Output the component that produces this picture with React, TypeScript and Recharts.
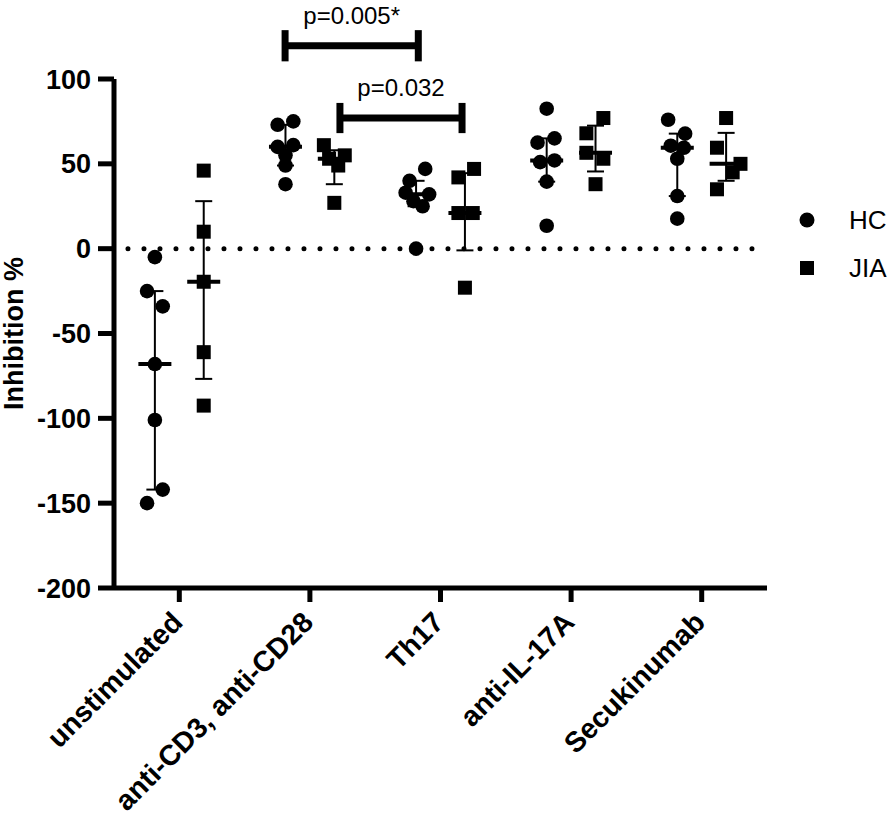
import React from 'react';
import { ScatterChart, Scatter, XAxis, YAxis, ReferenceLine, ErrorBar, Legend } from 'recharts';

const categories = ['unstimulated', 'anti-CD3, anti-CD28', 'Th17', 'anti-IL-17A', 'Secukinumab'];

const hcValues = [
  [-5, -25, -34, -68, -101, -142, -150],
  [75, 73, 61, 60, 55, 49, 38],
  [47, 40, 33, 32, 28, 25, 0],
  [82.5, 65, 62.5, 52, 51, 39.5, 13.5],
  [76, 67.8, 60.7, 59.5, 53, 31, 17.7],
];
const hcJitter = [
  [0, -0.06, 0.06, 0, 0, 0.06, -0.06],
  [0.06, -0.06, 0.06, -0.06, 0, 0, 0],
  [0.07, -0.05, -0.08, 0.1, -0.02, 0.05, 0],
  [0, 0.06, -0.07, 0.06, -0.05, 0, 0],
  [-0.07, 0.06, -0.05, 0.05, 0, 0, 0],
];
const jiaValues = [
  [46, 10, -19.5, -61, -92.5],
  [61, 55, 53, 49, 27],
  [47, 42, 21, 21, -23],
  [77, 68, 56.5, 53, 38],
  [77, 59.5, 50, 45, 35],
];
const jiaJitter = [
  [0, 0, 0, 0, 0],
  [-0.08, 0.08, -0.04, 0.03, 0],
  [0.07, -0.05, -0.05, 0.06, 0],
  [0.06, -0.07, -0.07, 0.06, 0],
  [0, -0.07, 0.11, 0.05, -0.07],
];
const seriesOffset = 0.187;
const yTicks = [-200, -150, -100, -50, 0, 50, 100];
const xTicks = [0.5, 1.5, 2.5, 3.5, 4.5];
const zeroLine = [0.107, 4.9];
const comparisons = [
  { label: 'p=0.005*', x1: 1.31, x2: 2.33, y: 119.6, cap: 9.2 },
  { label: 'p=0.032', x1: 1.73, x2: 2.665, y: 77, cap: 8.9 },
];

const FONT = '"Liberation Sans", Arial, Helvetica, sans-serif';

function quantile(sorted: number[], p: number) {
  const n = sorted.length;
  const pos = (n + 1) * p;
  if (pos <= 1) return sorted[0];
  if (pos >= n) return sorted[n - 1];
  const lo = Math.floor(pos);
  const frac = pos - lo;
  return sorted[lo - 1] + frac * (sorted[lo] - sorted[lo - 1]);
}

function buildPoints(values: number[][], jitter: number[][], sign: number) {
  const pts: { x: number; y: number }[] = [];
  values.forEach((arr, i) => {
    arr.forEach((v, j) => {
      pts.push({ x: i + 0.5 + sign * seriesOffset + jitter[i][j], y: v });
    });
  });
  return pts;
}

function buildSummary(values: number[][], sign: number) {
  return values.map((arr, i) => {
    const s = [...arr].sort((a, b) => a - b);
    const med = quantile(s, 0.5);
    const q1 = quantile(s, 0.25);
    const q3 = quantile(s, 0.75);
    return { x: i + 0.5 + sign * seriesOffset, y: med, err: [med - q1, q3 - med] };
  });
}

const hcPoints = buildPoints(hcValues, hcJitter, -1);
const jiaPoints = buildPoints(jiaValues, jiaJitter, 1);
const hcSummary = buildSummary(hcValues, -1);
const jiaSummary = buildSummary(jiaValues, 1);

const CircleShape = (props: any) => <circle cx={props.cx} cy={props.cy} r={7.3} fill="#000" />;
const SquareShape = (props: any) => (
  <rect x={props.cx - 7} y={props.cy - 7} width={14} height={14} fill="#000" />
);
const MedianShape = (props: any) => (
  <line x1={props.cx - 16.5} x2={props.cx + 16.5} y1={props.cy} y2={props.cy} stroke="#000" strokeWidth={4} />
);

const XTick = (props: any) => {
  const { x, y, payload } = props;
  const ax = x + 5;
  const ay = y + 22;
  return (
    <text
      x={ax}
      y={ay}
      transform={`rotate(-45, ${ax}, ${ay})`}
      textAnchor="end"
      fontSize={28.5}
      fontWeight="bold"
      fontFamily={FONT}
      fill="#000"
    >
      {categories[Math.floor(payload.value)]}
    </text>
  );
};

const YLabel = (props: any) => {
  const vb = props.viewBox || { y: 79, height: 509 };
  const cy = vb.y + vb.height / 2;
  return (
    <text
      x={23}
      y={cy}
      transform={`rotate(-90, 23, ${cy})`}
      textAnchor="middle"
      fontSize={27}
      fontWeight="bold"
      fontFamily={FONT}
      fill="#000"
    >
      Inhibition %
    </text>
  );
};

const LegendContent = () => (
  <svg width={103} height={100} style={{ display: 'block' }}>
    <circle cx={17} cy={24} r={7.5} fill="#000" />
    <text x={59} y={33} fontSize={26} fontFamily={FONT} fill="#000">HC</text>
    <rect x={10} y={65} width={14} height={14} fill="#000" />
    <text x={59} y={81} fontSize={26} fontFamily={FONT} fill="#000">JIA</text>
  </svg>
);

export default function App() {
  return (
    <div style={{ position: 'absolute', left: 0, top: 0, background: '#fff' }}>
      <ScatterChart
        width={893}
        height={820}
        margin={{ top: 79, right: 126, bottom: 32, left: 0 }}
        style={{ fontFamily: FONT }}
      >
        <XAxis
          type="number"
          dataKey="x"
          domain={[0, 5]}
          ticks={xTicks}
          allowDataOverflow
          height={200}
          tickSize={14}
          tickMargin={0}
          axisLine={{ stroke: '#000', strokeWidth: 5 }}
          tickLine={{ stroke: '#000', strokeWidth: 5 }}
          tick={<XTick />}
          interval={0}
        />
        <YAxis
          type="number"
          dataKey="y"
          domain={[-200, 100]}
          ticks={yTicks}
          allowDataOverflow
          width={114}
          tickSize={16}
          tickMargin={7}
          axisLine={{ stroke: '#000', strokeWidth: 5 }}
          tickLine={{ stroke: '#000', strokeWidth: 5 }}
          tick={{ fontSize: 27, fontWeight: 'bold', fill: '#000', fontFamily: FONT }}
          interval={0}
          label={{ content: YLabel }}
        />
        <ReferenceLine
          segment={[{ x: zeroLine[0], y: 0 }, { x: zeroLine[1], y: 0 }]}
          stroke="#000"
          strokeWidth={5}
          strokeDasharray="0 16"
          strokeLinecap="round"
          ifOverflow="visible"
        />
        <Scatter name="HC" data={hcPoints} shape={CircleShape} isAnimationActive={false} fill="#000" />
        <Scatter name="JIA" data={jiaPoints} shape={SquareShape} isAnimationActive={false} fill="#000" />
        <Scatter data={hcSummary} shape={MedianShape} isAnimationActive={false} legendType="none">
          <ErrorBar dataKey="err" direction="y" width={8.5} stroke="#000" strokeWidth={2} isAnimationActive={false} />
        </Scatter>
        <Scatter data={jiaSummary} shape={MedianShape} isAnimationActive={false} legendType="none">
          <ErrorBar dataKey="err" direction="y" width={8.5} stroke="#000" strokeWidth={2} isAnimationActive={false} />
        </Scatter>
        {comparisons.map((c) => (
          <ReferenceLine
            key={c.label}
            segment={[{ x: c.x1, y: c.y }, { x: c.x2, y: c.y }]}
            stroke="#000"
            strokeWidth={7}
            ifOverflow="visible"
            label={{ value: c.label, position: 'top', offset: 22, fontSize: 24, fill: '#000', fontFamily: FONT }}
          />
        ))}
        {comparisons.map((c) => (
          <ReferenceLine
            key={c.label + 'a'}
            segment={[{ x: c.x1, y: c.y - c.cap }, { x: c.x1, y: c.y + c.cap }]}
            stroke="#000"
            strokeWidth={7}
            ifOverflow="visible"
          />
        ))}
        {comparisons.map((c) => (
          <ReferenceLine
            key={c.label + 'b'}
            segment={[{ x: c.x2, y: c.y - c.cap }, { x: c.x2, y: c.y + c.cap }]}
            stroke="#000"
            strokeWidth={7}
            ifOverflow="visible"
          />
        ))}
        <Legend
          layout="horizontal"
          verticalAlign="middle"
          align="center"
          wrapperStyle={{ position: 'absolute', left: 790, top: 196, width: 103, height: 100 }}
          content={LegendContent}
        />
      </ScatterChart>
    </div>
  );
}
